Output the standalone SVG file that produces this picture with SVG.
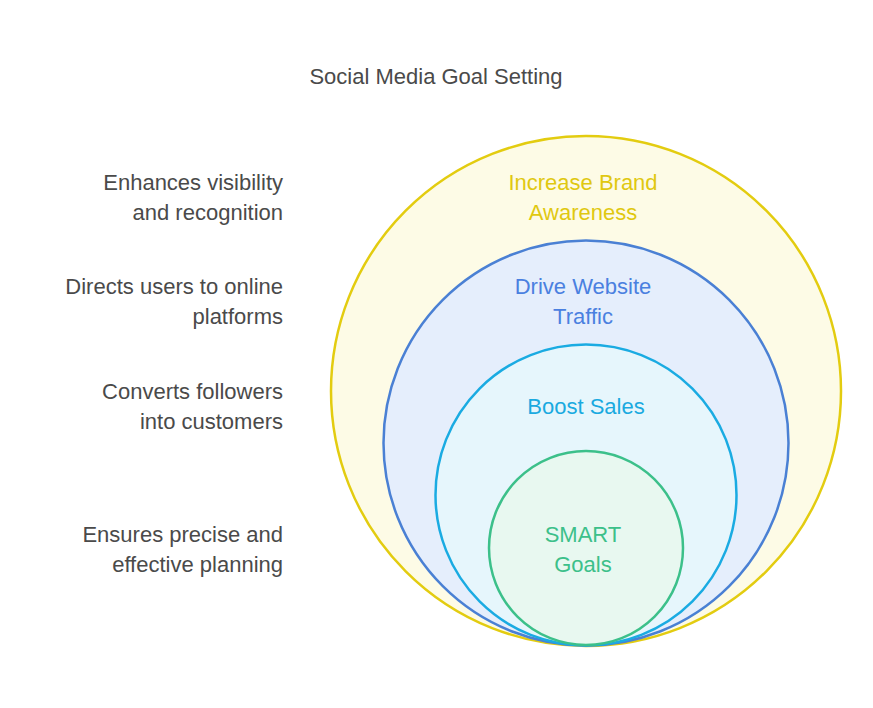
<svg xmlns="http://www.w3.org/2000/svg" width="873" height="708" viewBox="0 0 873 708">
<style>
text{font-family:"Liberation Sans",Arial,sans-serif;font-size:22px}
.l{fill:#4a4a4a;text-anchor:end}
.c{text-anchor:middle}
circle{stroke-width:2.5}
</style>
<rect width="873" height="708" fill="#fff"/>
<text x="436" y="84" class="c" fill="#4a4a4a">Social Media Goal Setting</text>
<g id="n1"><circle cx="586" cy="391" r="255" fill="#fdfbe6" stroke="#e3cc10"/>
<text x="583" y="190" class="c" fill="#e0c810">Increase Brand</text><text x="583" y="220" class="c" fill="#e0c810">Awareness</text></g>
<g id="n2"><circle cx="586" cy="443" r="202.5" fill="#e5eefc" stroke="#4a80d4"/>
<text x="583" y="294" class="c" fill="#4a80e0">Drive Website</text><text x="583" y="324" class="c" fill="#4a80e0">Traffic</text></g>
<g id="n3"><circle cx="586" cy="495" r="150.5" fill="#e6f6fc" stroke="#1aabe2"/>
<text x="586" y="414" class="c" fill="#1aaae0">Boost Sales</text></g>
<g id="n4"><circle cx="586" cy="548" r="97" fill="#e8f8f0" stroke="#3cc08a"/>
<text x="583" y="542" class="c" fill="#3cc08a">SMART</text><text x="583" y="572" class="c" fill="#3cc08a">Goals</text></g>
<g id="labels">
<text x="283" y="190" class="l">Enhances visibility</text><text x="283" y="220" class="l">and recognition</text>
<text x="283" y="294" class="l">Directs users to online</text><text x="283" y="324" class="l">platforms</text>
<text x="283" y="399" class="l">Converts followers</text><text x="283" y="429" class="l">into customers</text>
<text x="283" y="542" class="l">Ensures precise and</text><text x="283" y="572" class="l">effective planning</text>
</g>
<g id="connectors"></g>
</svg>
